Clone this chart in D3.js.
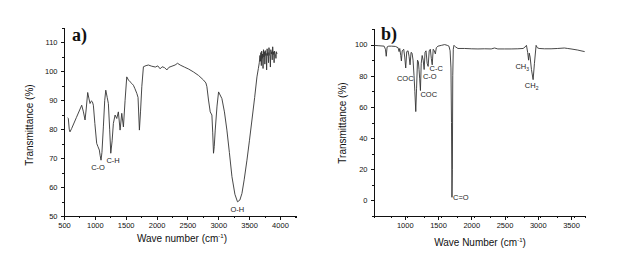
<!DOCTYPE html>
<html lang="en">
<head>
<meta charset="UTF-8">
<script src="https://d3js.org/d3.v7.min.js"></script>
<style>
  body { margin: 0; background: #fff; }
  text { font-family: "Liberation Sans", Arial, sans-serif; fill: #111; }
  .axis path, .axis line { stroke: #111; stroke-width: 1; shape-rendering: crispEdges; }
  .axis text { font-size: 7.5px; font-family: "Liberation Sans", Arial, sans-serif; fill: #111; }
  .title { font-size: 10px; }
  .tag { font-family: "Liberation Serif", "DejaVu Serif", serif; font-weight: bold; font-size: 18px; }
  .peak { font-size: 7.5px; fill: #222; }
  .spec { fill: none; stroke: #333; stroke-width: 0.9; stroke-linejoin: round; }
</style>
</head>
<body>
<svg class="chart"></svg>
<script>

// panel a) spectrum
const waveA = [560, 570, 585, 597, 625, 700, 787, 815, 841, 860, 884, 905, 922, 945, 960, 976, 1000, 1030, 1050, 1073, 1085, 1100, 1115, 1138, 1160, 1177, 1200, 1219, 1240, 1258, 1280, 1300, 1328, 1355, 1381, 1409, 1436, 1463, 1490, 1517, 1545, 1571, 1600, 1625, 1650, 1680, 1700, 1722, 1740, 1761, 1787, 1830, 1868, 1920, 1980, 2020, 2058, 2090, 2130, 2167, 2200, 2250, 2300, 2340, 2383, 2450, 2520, 2599, 2680, 2761, 2800, 2816, 2842, 2870, 2897, 2910, 2923, 2935, 2951, 2980, 3005, 3059, 3100, 3140, 3180, 3222, 3270, 3312, 3350, 3384, 3420, 3465, 3505, 3546, 3590, 3627, 3650, 3665, 3676, 3684, 3690, 3698, 3704, 3712, 3718, 3726, 3733, 3740, 3748, 3755, 3762, 3770, 3777, 3784, 3792, 3800, 3808, 3815, 3822, 3830, 3838, 3845, 3852, 3860, 3868, 3875, 3882, 3890, 3898, 3905, 3912, 3920, 3928, 3935, 3942, 3952];
const transA = [84, 83.7, 80, 79.1, 80.3, 84, 88.3, 86, 83.2, 87, 92.7, 90.5, 88.9, 89.8, 89.5, 88.3, 82, 75.1, 74, 72.8, 71, 69.3, 72, 80.8, 90, 93.5, 91, 88.9, 80, 71.7, 76, 82, 84.9, 83.7, 86, 79.7, 85.5, 80.8, 90, 98.1, 97, 96.4, 95.8, 95.2, 94, 92.4, 91, 79.7, 86, 94.7, 101.6, 102, 102.2, 101.8, 101.5, 101.9, 100.9, 101.6, 101.3, 100.5, 101.4, 101.8, 102.2, 102.8, 102.2, 101.5, 100.8, 99.8, 98.6, 97, 96, 94.7, 90.1, 86, 84.9, 79, 71.7, 74, 79.7, 88, 92.9, 90.6, 86, 79.7, 72, 63.6, 57.5, 54.9, 55.5, 57.8, 62.5, 69.3, 76, 83.2, 91, 98.1, 101, 103, 105.5, 103.5, 106.5, 102, 107, 104.5, 106, 101, 107.5, 105, 106.8, 102.5, 107.2, 105.5, 106.2, 100.5, 107.8, 105.5, 106.5, 103, 108.2, 106, 105.2, 101.5, 107.5, 106, 106.8, 104, 108.5, 105.8, 106.8, 103, 107, 106.2, 105.8, 104.5, 106.8, 106, 105.8];

// panel b) spectrum
const waveB = [540, 600, 690, 710, 722, 735, 760, 800, 860, 900, 915, 925, 940, 950, 962, 985, 1000, 1015, 1030, 1050, 1065, 1080, 1095, 1110, 1125, 1140, 1152, 1166, 1178, 1192, 1205, 1215, 1225, 1236, 1248, 1262, 1277, 1292, 1305, 1320, 1337, 1352, 1368, 1385, 1400, 1413, 1428, 1445, 1460, 1475, 1500, 1550, 1600, 1640, 1665, 1682, 1695, 1703, 1710, 1716, 1722, 1730, 1740, 1750, 1765, 1800, 1900, 2000, 2100, 2200, 2300, 2350, 2400, 2500, 2600, 2700, 2780, 2810, 2830, 2848, 2862, 2872, 2885, 2905, 2930, 2950, 2975, 2992, 3020, 3100, 3200, 3300, 3400, 3450, 3500, 3600, 3650, 3705];
const transB = [99.5, 99.3, 99, 97, 92.5, 98.5, 99, 99, 98.8, 98, 95.5, 97.5, 93, 89.5, 96, 97, 92, 85, 95.5, 96, 92.5, 87, 95, 94.5, 90, 80, 70, 57, 72, 90, 89, 84, 78, 70.5, 88, 93, 90, 84, 95, 96, 88, 86, 96, 97, 91, 87, 97, 96, 94, 98, 99, 99.5, 100, 99.5, 99, 96, 85, 50, 2, 20, 80, 97, 99.5, 99, 98.5, 97.5, 97.5, 97.3, 97.2, 97.3, 97.2, 97.8, 97.2, 97.2, 97.2, 97.3, 97.5, 98.5, 99.5, 95, 90, 94.5, 92, 84, 77.5, 88, 99.5, 98, 97.5, 97.3, 97.3, 97.5, 97.8, 97.5, 97.2, 96.5, 96, 95.5];

// tick values
const ticksAX = [500, 1000, 1500, 2000, 2500, 3000, 3500, 4000];
const ticksAY = [50, 60, 70, 80, 90, 100, 110];
const ticksBX = [1000, 1500, 2000, 2500, 3000, 3500];
const ticksBY = [0, 20, 40, 60, 80, 100];

// peak labels
const peaksA = ["C-O", "C-H", "O-H"];
const peaksAWave = [1052, 1295, 3308];
const peaksATrans = [66.9, 69.3, 52.4];

const peaksB = ["COC", "COC", "C-O", "C-C", "C=O", "CH|3", "CH|2"];
const peaksBWave = [1008, 1361, 1377, 1474, 1843, 2767, 2908];
const peaksBTrans = [78.6, 67.9, 79.8, 84.8, 2, 86.1, 73.6];

let svg = d3.select(".chart")
    .attr("width", 619)
    .attr("height", 258)

svg.append("rect").attr("width", 619).attr("height", 258).attr("fill", "#fff")

function drawPanel(p) {
  let x = d3.scaleLinear().domain(p.xDomain).range([p.left, p.right])
  let y = d3.scaleLinear().domain(p.yDomain).range([p.bottom, p.top])
  let g = svg.append("g")

  // minor ticks
  let xMinor = d3.range(p.xDomain[0], p.xDomain[1], 250).filter(v => v % 500 != 0 && v > p.xDomain[0])
  let yMinor = d3.range(Math.ceil(p.yDomain[0]), p.yDomain[1], p.yStep / 2).filter(v => (v - p.yTicks[0]) % p.yStep != 0)

  g.append("g")
      .attr("class", "axis")
      .attr("transform", `translate(0,${p.bottom})`)
      .call(d3.axisBottom(x).tickValues(xMinor).tickSize(1.8).tickFormat(""))
  g.append("g")
      .attr("class", "axis")
      .attr("transform", `translate(${p.left},0)`)
      .call(d3.axisLeft(y).tickValues(yMinor).tickSize(1.8).tickFormat(""))

  g.append("g")
      .attr("class", "axis")
      .attr("transform", `translate(0,${p.bottom})`)
      .call(d3.axisBottom(x).tickValues(p.xTicks).tickSize(3.5).tickSizeOuter(0).tickPadding(3).tickFormat(d3.format("d")))
  g.append("g")
      .attr("class", "axis")
      .attr("transform", `translate(${p.left},0)`)
      .call(d3.axisLeft(y).tickValues(p.yTicks).tickSize(3.5).tickSizeOuter(0).tickPadding(3).tickFormat(d3.format("d")))

  let line = d3.line().x(d => x(d[0])).y(d => y(d[1]))
  g.append("path")
      .attr("class", "spec")
      .attr("d", line(d3.zip(p.wave, p.trans)))

  // peak labels, "|" marks a subscript
  p.names.forEach((n, i) => {
    let parts = n.split("|")
    let t = g.append("text")
        .attr("class", "peak")
        .attr("x", x(p.pw[i]))
        .attr("y", y(p.pt[i]))
        .attr("dy", "0.35em")
        .attr("text-anchor", "middle")
    t.append("tspan").text(parts[0])
    if (parts[1]) t.append("tspan").attr("font-size", "5px").attr("dy", "2").text(parts[1])
  })

  g.append("text")
      .attr("class", "title")
      .attr("font-size", p.titleSize + "px")
      .attr("x", p.xTitle[0]).attr("y", p.xTitle[1])
      .attr("text-anchor", "middle")
      .html(p.xLabel + " (cm<tspan dy='-4' font-size='6px'>-1</tspan><tspan dy='4'>)</tspan>")

  g.append("text")
      .attr("class", "title")
      .attr("font-size", p.titleSize + "px")
      .attr("transform", `translate(${p.yTitle[0]},${p.yTitle[1]}) rotate(-90)`)
      .attr("text-anchor", "middle")
      .text("Transmittance (%)")

  g.append("text")
      .attr("class", "tag")
      .attr("x", p.tag[0]).attr("y", p.tag[1])
      .text(p.tagText)
}

drawPanel({
  left: 64, right: 296, top: 28, bottom: 216,
  xDomain: [500, 4260], yDomain: [50, 115], yStep: 10,
  xTicks: ticksAX, yTicks: ticksAY,
  wave: waveA, trans: transA,
  names: peaksA, pw: peaksAWave, pt: peaksATrans,
  xLabel: "Wave number", xTitle: [182, 242], yTitle: [33, 125], titleSize: 9.5,
  tag: [72, 41], tagText: "a)"
})

drawPanel({
  left: 374, right: 585, top: 29, bottom: 216,
  xDomain: [538, 3710], yDomain: [-10, 110], yStep: 20,
  xTicks: ticksBX, yTicks: ticksBY,
  wave: waveB, trans: transB,
  names: peaksB, pw: peaksBWave, pt: peaksBTrans,
  xLabel: "Wave Number", xTitle: [480, 246], yTitle: [346, 123], titleSize: 10.5,
  tag: [381, 40], tagText: "b)"
})

</script>
</body>
</html>
